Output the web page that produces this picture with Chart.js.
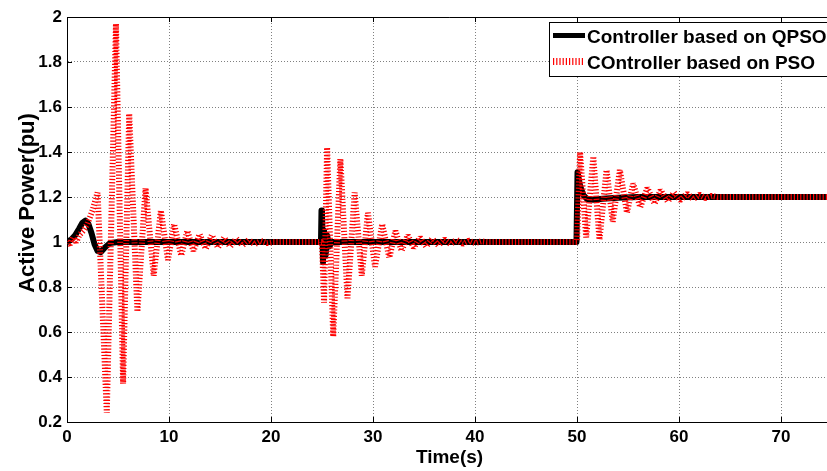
<!DOCTYPE html>
<html>
<head>
<meta charset="utf-8">
<script src="https://cdn.jsdelivr.net/npm/chart.js@4.4.1/dist/chart.umd.min.js"></script>
<style>
html,body{margin:0;padding:0;background:#fff;overflow:hidden;width:827px;height:471px}
#wrap{position:relative;width:840px;height:471px}
canvas{display:block}
</style>
</head>
<body>
<div id="wrap"><canvas id="c" width="840" height="471"></canvas></div>
<script>
// ---- data ----
const seriesNames = ['Controller based on QPSO', 'COntroller based on PSO'];

const qpsoTime  = [0, 0.4, 0.8, 1.2, 1.5, 1.8, 2.1, 2.4, 2.7, 3.0, 3.3, 3.7, 4.2, 5.0, 6.0,
                   24.9, 24.95, 25.0, 25.1, 25.2, 25.35, 25.5, 25.7, 26.0,
                   49.95, 50.05, 50.3, 50.6, 51.0, 51.6, 52.5, 54.0, 56.0, 75];
const qpsoPower = [1.0, 1.01, 1.03, 1.06, 1.085, 1.095, 1.08, 1.04, 0.99, 0.96, 0.955, 0.975, 0.995, 1.0, 1.0,
                   1.0, 1.14, 1.14, 0.91, 1.05, 0.94, 1.03, 0.98, 1.0,
                   1.0, 1.31, 1.25, 1.21, 1.19, 1.188, 1.192, 1.197, 1.2, 1.2];

const psoTime  = [0, 0.3, 0.6, 0.9, 1.2, 1.6, 2.0, 2.5, 3.0, 3.9, 4.8, 5.5, 6.1, 6.9, 7.7, 8.5, 9.2, 9.9,
                  10.5, 11.2, 11.8, 12.4, 13.0, 13.6, 14.2, 14.8, 15.4, 16.0, 16.6, 17.2, 17.8, 18.4, 19.0, 19.6, 20.2,
                  24.9, 25.0, 25.2, 25.5, 26.1, 26.8, 27.5, 28.2, 28.9, 29.5, 30.2, 30.9, 31.6, 32.2, 32.8, 33.4,
                  34.0, 34.6, 35.2, 35.8, 36.4, 37.0, 37.6, 38.2, 38.8, 39.4, 40.0, 40.6, 41.2,
                  49.95, 50.0, 50.3, 50.9, 51.6, 52.2, 52.9, 53.5, 54.2, 54.9, 55.5, 56.2, 56.9, 57.6, 58.2,
                  58.9, 59.5, 60.1, 60.8, 61.4, 62.0, 62.6, 63.2, 63.8, 75];
const psoPower = [1.0, 0.99, 1.02, 1.0, 1.03, 1.05, 1.08, 1.14, 1.22, 0.24, 1.97, 0.37, 1.57, 0.69, 1.24, 0.85, 1.14, 0.92,
                  1.08, 0.94, 1.05, 0.96, 1.035, 0.97, 1.03, 0.975, 1.02, 0.98, 1.015, 0.985, 1.01, 0.99, 1.005, 0.995, 1.0,
                  1.0, 1.0, 0.73, 1.42, 0.58, 1.37, 0.75, 1.22, 0.85, 1.13, 0.89, 1.08, 0.93, 1.05, 0.96, 1.03,
                  0.975, 1.02, 0.98, 1.015, 0.985, 1.012, 0.99, 1.01, 0.992, 1.006, 0.995, 1.003, 1.0,
                  1.0, 1.0, 1.40, 1.02, 1.38, 1.01, 1.32, 1.09, 1.32, 1.13, 1.26, 1.155, 1.24, 1.17, 1.23,
                  1.18, 1.22, 1.185, 1.215, 1.19, 1.21, 1.195, 1.205, 1.2, 1.2];

const xTickValues = [0, 10, 20, 30, 40, 50, 60, 70];
const yTickValues = [0.2, 0.4, 0.6, 0.8, 1.0, 1.2, 1.4, 1.6, 1.8, 2.0];
const xTitle = 'Time(s)';
const yTitle = 'Active Power(pu)';

// ---- chart ----
const FONT = '"Liberation Sans", Arial, Helvetica, sans-serif';

const framePlugin = {
  id: 'frameAndLegend',
  afterDraw(chart) {
    const {ctx, chartArea: a, scales: {x, y}} = chart;
    ctx.save();
    ctx.setLineDash([]);
    ctx.strokeStyle = '#000';
    ctx.lineWidth = 1;
    ctx.beginPath();
    ctx.moveTo(a.left, a.top + 0.5); ctx.lineTo(a.right, a.top + 0.5);
    xTickValues.forEach(v => {
      const px = Math.round(x.getPixelForValue(v)) + 0.5;
      ctx.moveTo(px, a.bottom); ctx.lineTo(px, a.bottom - 5);
      ctx.moveTo(px, a.top); ctx.lineTo(px, a.top + 5);
    });
    yTickValues.forEach(v => {
      const py = Math.round(y.getPixelForValue(v)) + 0.5;
      ctx.moveTo(a.left, py); ctx.lineTo(a.left + 5, py);
    });
    ctx.stroke();

    // legend box
    const lx = 549, ly = 22, lw = 300, lh = 54;
    ctx.fillStyle = '#fff';
    ctx.fillRect(lx, ly, lw, lh);
    ctx.strokeRect(lx + 0.5, ly + 0.5, lw, lh);
    const rows = [{line: 35.5, text: 43}, {line: 61.5, text: 69}];
    chart.data.datasets.forEach((ds, i) => {
      ctx.save();
      ctx.strokeStyle = ds.borderColor;
      ctx.lineWidth = ds.legendWidth;
      ctx.setLineDash(ds.borderDash || []);
      ctx.lineCap = 'butt';
      ctx.beginPath();
      ctx.moveTo(553, rows[i].line); ctx.lineTo(585, rows[i].line);
      ctx.stroke();
      ctx.restore();
      ctx.fillStyle = '#000';
      ctx.font = 'bold 19px ' + FONT;
      ctx.textAlign = 'left';
      ctx.textBaseline = 'alphabetic';
      ctx.fillText(ds.label, 587, rows[i].text);
    });

    // y axis title
    ctx.translate(28, 203);
    ctx.rotate(-Math.PI / 2);
    ctx.fillStyle = '#000';
    ctx.font = 'bold 22px ' + FONT;
    ctx.textAlign = 'center';
    ctx.textBaseline = 'middle';
    ctx.fillText(yTitle, 0, 0);
    ctx.restore();
  }
};

new Chart(document.getElementById('c'), {
  type: 'line',
  data: {
    datasets: [
      {
        label: seriesNames[0],
        data: qpsoTime.map((t, i) => ({x: t, y: qpsoPower[i]})),
        borderColor: '#000000',
        borderWidth: 6,
        legendWidth: 5,
        pointRadius: 0,
        borderJoinStyle: 'round',
        borderCapStyle: 'round',
        tension: 0,
        order: 2
      },
      {
        label: seriesNames[1],
        data: psoTime.map((t, i) => ({x: t, y: psoPower[i]})),
        borderColor: '#ff0000',
        borderWidth: 6,
        legendWidth: 7,
        borderDash: [1.2, 2.0],
        pointRadius: 0,
        borderCapStyle: 'butt',
        borderJoinStyle: 'bevel',
        tension: 0,
        order: 1
      }
    ]
  },
  options: {
    responsive: false,
    devicePixelRatio: 1,
    animation: false,
    layout: {padding: {left: 0, right: 8, top: 17, bottom: 0}},
    plugins: {legend: {display: false}, tooltip: {enabled: false}},
    scales: {
      x: {
        type: 'linear',
        min: 0, max: 75,
        afterFit: s => { s.height = 49; },
        afterBuildTicks: s => { s.ticks = xTickValues.map(v => ({value: v})); },
        ticks: {
          color: '#000', padding: 5, maxRotation: 0,
          font: {family: FONT, size: 17, weight: 'bold'},
          callback: v => String(v)
        },
        grid: {color: '#808080', lineWidth: 1, drawTicks: false},
        border: {display: true, color: '#000', width: 1, dash: [1, 2]},
        title: {
          display: true, text: xTitle, color: '#000',
          font: {family: FONT, size: 19, weight: 'bold'},
          padding: {top: 0, bottom: 2}
        }
      },
      y: {
        type: 'linear',
        min: 0.2, max: 2.0,
        afterFit: s => { s.width = 67; },
        afterBuildTicks: s => { s.ticks = yTickValues.map(v => ({value: v})); },
        ticks: {
          color: '#000', padding: 5,
          font: {family: FONT, size: 17, weight: 'bold'},
          callback: v => String(+Number(v).toFixed(1))
        },
        grid: {color: '#808080', lineWidth: 1, drawTicks: false},
        border: {display: true, color: '#000', width: 1, dash: [1, 2]},
        title: {display: false}
      }
    }
  },
  plugins: [framePlugin]
});
</script>
</body>
</html>
